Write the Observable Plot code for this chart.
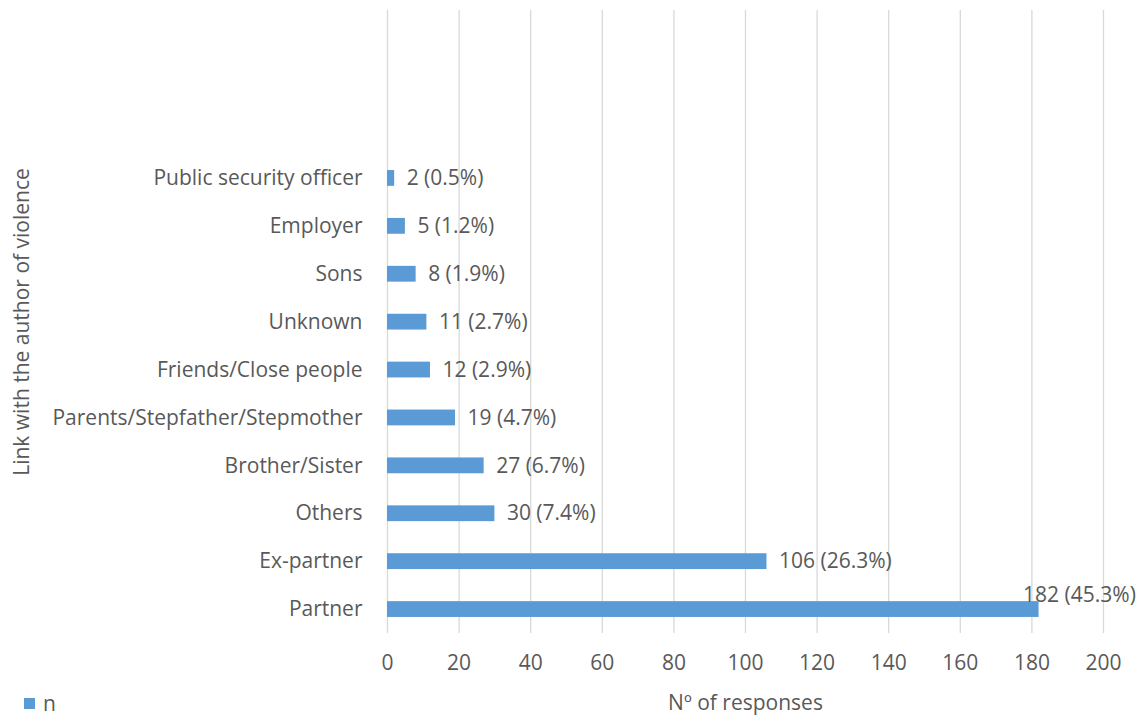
<!DOCTYPE html>
<html>
<head>
<meta charset="utf-8">
<script src="https://cdn.jsdelivr.net/npm/d3@7"></script>
<script src="https://cdn.jsdelivr.net/npm/@observablehq/plot@0.6"></script>
<style>
  html, body { margin: 0; padding: 0; background: #fff; overflow: hidden; }
  #wrap { position: relative; width: 1148px; height: 715px; font-family: "Open Sans", sans-serif; }
  #legend { position: absolute; left: 24px; top: 692px; height: 22px; line-height: 22px; font-size: 21px; color: #595959; display: flex; align-items: center; }
  #legend .sw { width: 11px; height: 11px; background: #5B9BD5; margin-right: 8px; }
</style>
</head>
<body>
<div id="wrap">
  <div id="chart"></div>
  <div id="legend"><span class="sw"></span><span>n</span></div>
</div>
<script>
const categories = [
  "Public security officer",
  "Employer",
  "Sons",
  "Unknown",
  "Friends/Close people",
  "Parents/Stepfather/Stepmother",
  "Brother/Sister",
  "Others",
  "Ex-partner",
  "Partner"
];
const counts = [2, 5, 8, 11, 12, 19, 27, 30, 106, 182];
const percents = ["0.5%", "1.2%", "1.9%", "2.7%", "2.9%", "4.7%", "6.7%", "7.4%", "26.3%", "45.3%"];
const xTicks = [0, 20, 40, 60, 80, 100, 120, 140, 160, 180, 200];

const data = categories.map((c, i) => ({cat: c, n: counts[i], label: `${counts[i]} (${percents[i]})`}));
const last = data[data.length - 1];
const rest = data.slice(0, -1);

const grey = "#595959";
const fs = 21;
const chart = Plot.plot({
  width: 1148,
  height: 715,
  marginLeft: 387,
  marginRight: 45,
  marginTop: 10,
  marginBottom: 82,
  style: {fontFamily: "Open Sans, sans-serif", fontSize: fs + "px", color: grey, background: "#fff"},
  x: {domain: [0, 200], ticks: xTicks},
  y: {domain: categories, range: [154, 633], paddingInner: 0.67, paddingOuter: 0.335, round: false},
  marks: [
    Plot.gridX(xTicks, {stroke: "#d9d9d9", strokeOpacity: 1, strokeWidth: 1.3}),
    Plot.axisX({ticks: xTicks, tickSize: 0, tickPadding: 22, fontSize: fs, label: "Nº of responses", labelAnchor: "center", labelArrow: "none", labelOffset: 76}),
    Plot.axisY({tickSize: 0, tickPadding: 25, fontSize: fs, label: null}),
    Plot.barX(data, {x: "n", y: "cat", fill: "#5B9BD5"}),
    Plot.text(rest, {x: "n", y: "cat", text: "label", dx: 12, textAnchor: "start", fill: grey, fontSize: fs}),
    Plot.text([last], {x: "n", y: "cat", text: "label", dx: -16, dy: -14, textAnchor: "start", fill: grey, fontSize: fs}),
    Plot.text(["Link with the author of violence"], {frameAnchor: "left", dx: -365, rotate: -90, textAnchor: "middle", fill: grey, fontSize: fs})
  ]
});
document.getElementById("chart").appendChild(chart);
</script>
</body>
</html>
